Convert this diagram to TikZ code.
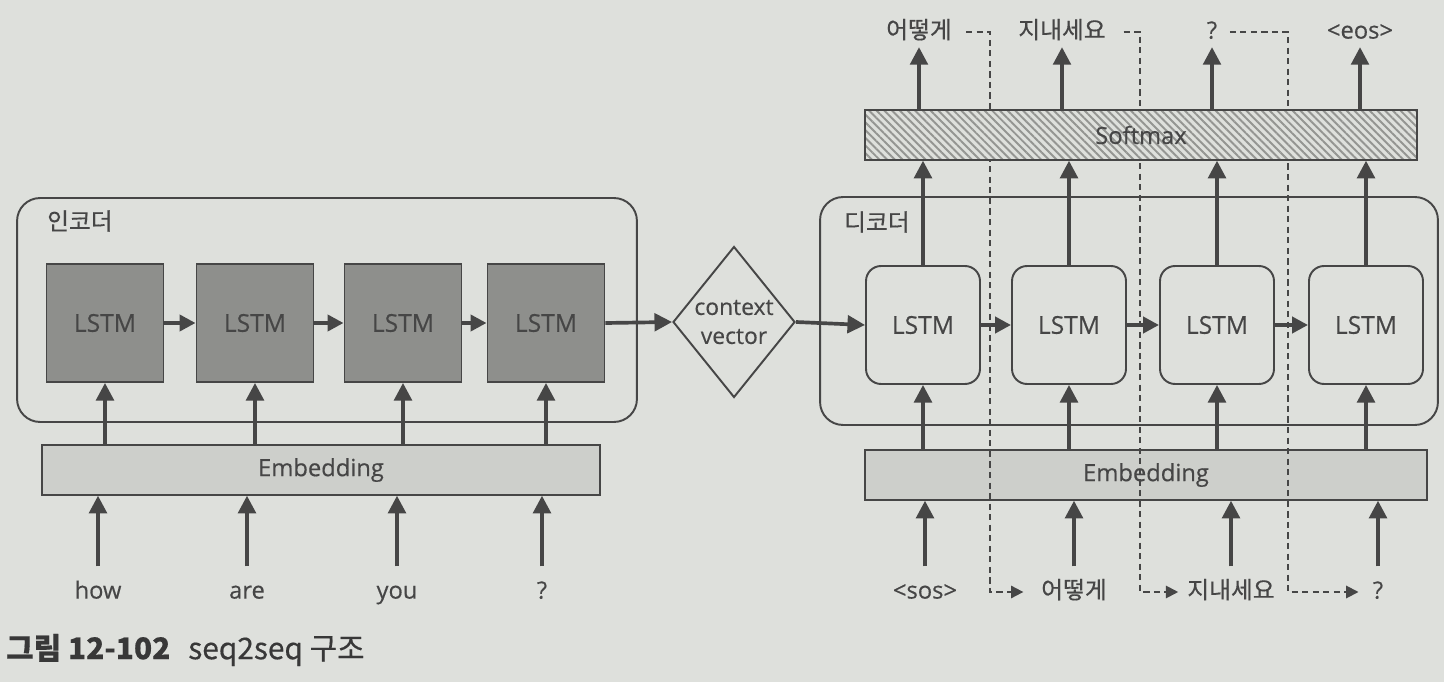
\documentclass[tikz,border=0pt]{standalone}
\usepackage{fontspec}
\setmainfont{Open Sans}[FakeBold=0.4]
\newfontfamily\kr{Noto Sans CJK KR}[FakeBold=0.4]
\usetikzlibrary{shapes.geometric, arrows.meta, patterns.meta}

\definecolor{paper}{RGB}{222,224,220}
\definecolor{ink}{RGB}{70,70,70}
\definecolor{cellgray}{RGB}{142,143,140}
\definecolor{embgray}{RGB}{205,207,203}
\definecolor{hatch}{RGB}{148,149,146}

\begin{document}
\begin{tikzpicture}[x=0.02cm, y=-0.02cm,
    every node/.style={text=ink, font=\fontsize{13.5}{16}\selectfont},
    group/.style={draw=ink, line width=1.1pt, rounded corners=0.46cm},
    enccell/.style={draw=ink, line width=1.1pt, fill=cellgray, minimum width=2.34cm, minimum height=2.36cm, font=\fontsize{14}{17}\selectfont},
    deccell/.style={draw=ink, line width=1.1pt, fill=paper, rounded corners=0.3cm, minimum width=2.28cm, minimum height=2.36cm, font=\fontsize{14}{17}\selectfont},
    layer/.style={draw=ink, line width=1.1pt, minimum height=0.99cm},
    word/.style={text height=1.9ex, text depth=0.5ex, inner sep=2pt},
    up/.style={draw=ink, line width=2.1pt, -{Triangle[length=10pt, width=10pt]}},
    link/.style={draw=ink, line width=2.8pt, -{Triangle[length=9pt, width=9pt]}},
    feed/.style={draw=ink, line width=1.1pt, dash pattern=on 3.5pt off 2.5pt, -{Triangle[length=7pt, width=7pt]}}
]

        % Background
        \fill[paper] (0,0) rectangle (1444,682);
        \useasboundingbox (0,0) rectangle (1444,682);

        % Encoder
        \node[group, minimum width=12.4cm, minimum height=4.48cm] (encoder) at (327,310) {};
        \node[anchor=west] (enctitle) at (41,221) {\kr 인코더};
        \node[enccell] (enc1) at (105,323) {LSTM};
        \node[enccell] (enc2) at (255,323) {LSTM};
        \node[enccell] (enc3) at (403,323) {LSTM};
        \node[enccell] (enc4) at (546,323) {LSTM};
        \node[layer, fill=embgray, minimum width=11.16cm] (encemb) at (321,470) {Embedding};

        % Encoder inputs
        \node[word] (how) at (98,592) {how};
        \node[word] (are) at (247,592) {are};
        \node[word] (you) at (397,592) {you};
        \node[word] (qin) at (542,592) {?};

        % Context vector
        \node[diamond, draw=ink, line width=1.1pt, fill=paper, minimum width=2.44cm, minimum height=3.02cm, inner sep=0pt] (ctx) at (734,322) {};
        \node[align=center, font=\fontsize{13}{16.5}\selectfont] (ctxtext) at (ctx) {context\\vector};

        % Decoder
        \node[group, minimum width=12.36cm, minimum height=4.56cm] (decoder) at (1129,311) {};
        \node[anchor=west] (dectitle) at (838,222) {\kr 디코더};
        \node[deccell] (dec1) at (923,325) {LSTM};
        \node[deccell] (dec2) at (1069,325) {LSTM};
        \node[deccell] (dec3) at (1217,325) {LSTM};
        \node[deccell] (dec4) at (1366,325) {LSTM};
        \node[layer, fill=embgray, minimum width=11.26cm] (decemb) at (1146,475) {Embedding};

        % Decoder inputs
        \node[word] (sos) at (925,592) {<sos>};
        \node[word] (in2) at (1074,592) {\kr 어떻게};
        \node[word] (in3) at (1231,592) {\kr 지내세요};
        \node[word] (in4) at (1378,592) {?};

        % Decoder outputs
        \node[word] (out1) at (919,32) {\kr 어떻게};
        \node[word] (out2) at (1062,32) {\kr 지내세요};
        \node[word] (out3) at (1212,32) {?};
        \node[word] (eos) at (1360,32) {<eos>};

        % Fed back outputs (dashed)
        \coordinate (turn1) at (990,0);
        \coordinate (turn2) at (1140,0);
        \coordinate (turn3) at (1288,0);
        \draw[feed, shorten <=6pt, shorten >=8pt] (out1.east) -- (out1.east -| turn1) -- (in2.west -| turn1) -- (in2.west);
        \draw[feed, shorten <=8pt, shorten >=3pt] (out2.east) -- (out2.east -| turn2) -- (in3.west -| turn2) -- (in3.west);
        \draw[feed, shorten <=5pt, shorten >=6pt] (out3.east) -- (out3.east -| turn3) -- (in4.west -| turn3) -- (in4.west);

        % Softmax layer
        \node[layer, preaction={fill=paper}, pattern={Lines[angle=-45, distance=3.1pt, line width=1.1pt]}, pattern color=hatch, minimum width=11.04cm] (soft) at (1141,135) {Softmax};

        % Encoder arrows
        \foreach \w/\c in {how/enc1, are/enc2, you/enc3, qin/enc4} {
            \draw[up, shorten <=6pt] (\w.north) -- (\w.north |- encemb.south);
            \draw[up] (\c.south |- encemb.north) -- (\c.south);
        }

        % Decoder arrows
        \foreach \w/\c/\o in {sos/dec1/out1, in2/dec2/out2, in3/dec3/out3, in4/dec4/eos} {
            \draw[up, shorten <=6pt] (\w.north) -- (\w.north |- decemb.south);
            \draw[up] (\c.south |- decemb.north) -- (\c.south);
            \draw[up] (\c.north) -- (\c.north |- soft.south);
            \draw[up] (soft.north -| \o.south) -- (\o.south);
        }

        % Hidden state
        \foreach \a/\b in {enc1/enc2, enc2/enc3, enc3/enc4, dec1/dec2, dec2/dec3, dec3/dec4}
            \draw[link] (\a.east) -- (\b.west);
        \draw[up] (enc4.east) -- (ctx.west);
        \draw[up] (ctx.east) -- (dec1.west);

        % Caption
        \node[anchor=west, text=black!78, font=\kr\fontsize{17}{20}\selectfont] (caption) at (0,650) {\bfseries 그림 12-102\hspace{0.6em}\mdseries seq2seq 구조};

\end{tikzpicture}
\end{document}
